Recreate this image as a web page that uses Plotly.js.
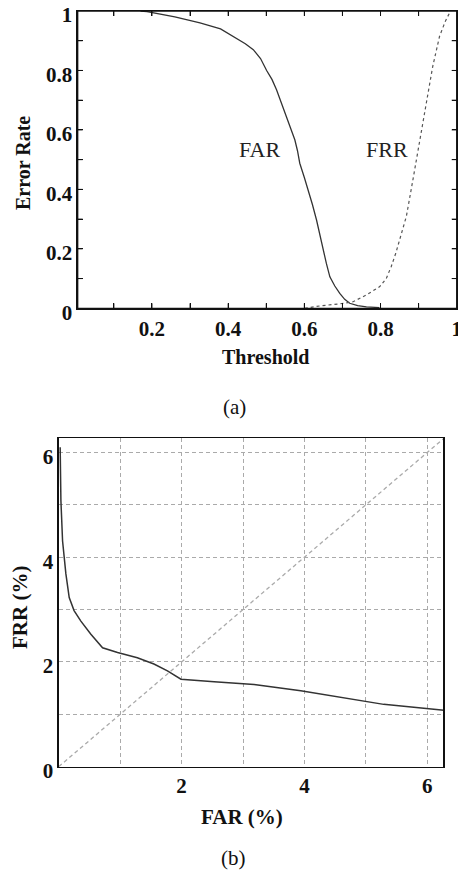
<!DOCTYPE html>
<html>
<head>
<meta charset="utf-8">
<script src="https://cdn.plot.ly/plotly-3.0.1.min.js"></script>
<style>html,body{margin:0;padding:0;background:#fff;}#chart{width:458px;height:877px;}</style>
</head>
<body>
<div id="chart"></div>
<script>
// (a) error rate vs threshold
const farThreshold = [0.17, 0.187, 0.26, 0.326, 0.38, 0.414, 0.445, 0.466, 0.485, 0.501, 0.515, 0.527, 0.54, 0.553, 0.565, 0.575, 0.582, 0.588, 0.6, 0.61, 0.621, 0.632, 0.641, 0.649, 0.658, 0.667, 0.68, 0.693, 0.706, 0.719, 0.74, 0.763, 0.797];
const farRate      = [1.0, 0.998, 0.98, 0.96, 0.94, 0.915, 0.89, 0.87, 0.84, 0.80, 0.77, 0.735, 0.69, 0.645, 0.605, 0.567, 0.53, 0.488, 0.44, 0.398, 0.35, 0.297, 0.245, 0.196, 0.15, 0.106, 0.075, 0.05, 0.03, 0.017, 0.009, 0.005, 0.002];
const frrThreshold = [0.601, 0.641, 0.693, 0.728, 0.763, 0.798, 0.815, 0.828, 0.84, 0.85, 0.868, 0.885, 0.902, 0.92, 0.937, 0.955, 0.97, 0.981];
const frrRate      = [0.0, 0.008, 0.015, 0.022, 0.045, 0.073, 0.1, 0.14, 0.185, 0.23, 0.31, 0.432, 0.556, 0.679, 0.813, 0.915, 0.965, 0.993];
const topXTickVals = [0.1, 0.2, 0.3, 0.4, 0.5, 0.6, 0.7, 0.8, 0.9, 1.0];
const topXTickText = ['', '0.2', '', '0.4', '', '0.6', '', '0.8', '', '1'];
const topYTickVals = [0, 0.1, 0.2, 0.3, 0.4, 0.5, 0.6, 0.7, 0.8, 0.9, 1.0];
const topYTickText = ['0', '', '0.2', '', '0.4', '', '0.6', '', '0.8', '', '1'];

// (b) FRR vs FAR (%)
const rocFAR = [0.024, 0.036, 0.063, 0.117, 0.171, 0.25, 0.361, 0.524, 0.714, 0.958, 1.28, 1.55, 1.77, 1.99, 2.53, 3.18, 3.94, 4.75, 5.29, 6.27];
const rocFRR = [6.1, 5.08, 4.31, 3.68, 3.23, 2.98, 2.78, 2.53, 2.27, 2.18, 2.08, 1.96, 1.83, 1.67, 1.62, 1.57, 1.45, 1.29, 1.19, 1.08];
const diagFAR = [0, 6.27];
const diagFRR = [0, 6.27];
const botTickVals = [0, 1, 2, 3, 4, 5, 6];
const botXTickText = ['', '', '2', '', '4', '', '6'];
const botYTickText = ['0', '', '2', '', '4', '', '6'];

const W = 458, H = 877;
const px = v => v / W;
const py = v => 1 - v / H;
const serif = '"Liberation Serif", "Times New Roman", serif';
const tickFont = {family: serif, size: 21, color: '#111', weight: 'bold'};
const plainTickFont = {family: serif, size: 21, color: '#111'};
const bold = a => a.map(t => t ? '<b>' + t + '</b>' : '');

const traces = [
  {x: farThreshold, y: farRate, xaxis: 'x', yaxis: 'y', mode: 'lines', line: {color: '#333', width: 1.3}, hoverinfo: 'skip'},
  {x: frrThreshold, y: frrRate, xaxis: 'x', yaxis: 'y', mode: 'lines', line: {color: '#555', width: 1.2, dash: '3px,3px'}, hoverinfo: 'skip'},
  {x: diagFAR, y: diagFRR, xaxis: 'x2', yaxis: 'y2', mode: 'lines', line: {color: '#aaa', width: 1.3, dash: '4px,3px'}, hoverinfo: 'skip'},
  {x: rocFAR, y: rocFRR, xaxis: 'x2', yaxis: 'y2', mode: 'lines', line: {color: '#333', width: 1.5}, hoverinfo: 'skip'}
];

// frame and inside ticks of panel (a), drawn above everything from the tick arrays
const tickLine = {color: '#111', width: 1};
const tickFracX = 5 / 297.3, tickFracY = 5 / 379;
const shapes = [
  {type: 'rect', xref: 'x domain', yref: 'y domain', x0: 0, x1: 1, y0: 0, y1: 1, layer: 'above', line: {color: '#111', width: 1.3}, fillcolor: 'rgba(0,0,0,0)'}
];
topXTickVals.filter(v => v < 1).forEach(v => {
  shapes.push({type: 'line', xref: 'x', yref: 'y domain', x0: v, x1: v, y0: 0, y1: tickFracX, layer: 'above', line: tickLine});
  shapes.push({type: 'line', xref: 'x', yref: 'y domain', x0: v, x1: v, y0: 1, y1: 1 - tickFracX, layer: 'above', line: tickLine});
});
topYTickVals.filter(v => v > 0 && v < 1).forEach(v => {
  shapes.push({type: 'line', xref: 'x domain', yref: 'y', x0: 0, x1: tickFracY, y0: v, y1: v, layer: 'above', line: tickLine});
  shapes.push({type: 'line', xref: 'x domain', yref: 'y', x0: 1, x1: 1 - tickFracY, y0: v, y1: v, layer: 'above', line: tickLine});
});

function ann(text, x, y, size, b, angle) {
  return {text: text, x: px(x), y: py(y), xref: 'paper', yref: 'paper', xanchor: 'center', yanchor: 'middle', textangle: angle || 0, showarrow: false,
          font: b ? {family: serif, size: size, color: '#111', weight: 'bold'} : {family: serif, size: size, color: '#111'}};
}

const layout = {
  width: W, height: H, autosize: false,
  margin: {l: 0, r: 0, t: 0, b: 0},
  paper_bgcolor: '#fff', plot_bgcolor: '#fff', showlegend: false,
  xaxis: {
    domain: [px(77.7), px(456.7)], range: [0.005, 1.0], anchor: 'y',
    showgrid: false, zeroline: false, showline: true, linecolor: '#111', linewidth: 1.3, mirror: 'allticks',
    ticks: 'inside', ticklen: 5, tickwidth: 1, tickcolor: '#111', tickmode: 'array', tickvals: topXTickVals, ticktext: topXTickText,
    tickfont: tickFont, ticklabelstandoff: 1, ticklabeloverflow: 'allow'
  },
  yaxis: {
    domain: [py(308.3), py(11)], range: [0, 1], anchor: 'x',
    showgrid: false, zeroline: false, showline: true, linecolor: '#111', linewidth: 1.3, mirror: 'ticks',
    ticks: 'inside', ticklen: 5, tickwidth: 1, tickcolor: '#111', tickmode: 'array', tickvals: topYTickVals, ticktext: bold(topYTickText),
    tickfont: plainTickFont, ticklabeloverflow: 'allow', ticklabelshift: 4
  },
  xaxis2: {
    domain: [px(58.7), px(443.3)], range: [0, 6.26], anchor: 'y2',
    showgrid: true, gridcolor: '#aaa', griddash: '4px,3px',
    zeroline: false, showline: true, linecolor: '#111', linewidth: 1.3, mirror: true,
    tickmode: 'array', tickvals: botTickVals, ticktext: botXTickText,
    tickfont: tickFont, ticklabeloverflow: 'allow'
  },
  yaxis2: {
    domain: [py(766.7), py(438.3)], range: [0, 6.27], anchor: 'x2',
    showgrid: true, gridcolor: '#aaa', griddash: '4px,3px',
    zeroline: false, showline: true, linecolor: '#111', linewidth: 1.3, mirror: true,
    tickmode: 'array', tickvals: botTickVals, ticktext: bold(botYTickText),
    tickfont: plainTickFont, ticklabeloverflow: 'allow', ticklabelshift: 4
  },
  shapes: shapes,
  annotations: [
    {text: 'FAR', x: 0.483, y: 0.533, xref: 'x', yref: 'y', showarrow: false, font: {family: serif, size: 22, color: '#222'}},
    {text: 'FRR', x: 0.818, y: 0.533, xref: 'x', yref: 'y', showarrow: false, font: {family: serif, size: 22, color: '#222'}},
    ann('Error Rate', 23, 163, 20, true, -90),
    ann('Threshold', 265, 357, 20, true),
    ann('(a)', 234, 407, 21, false),
    ann('FRR (%)', 20, 608, 21, true, -90),
    ann('FAR (%)', 242, 817, 21, true),
    ann('(b)', 233, 858, 21, false)
  ]
};

Plotly.newPlot('chart', traces, layout, {staticPlot: true, displayModeBar: false});
</script>
</body>
</html>
